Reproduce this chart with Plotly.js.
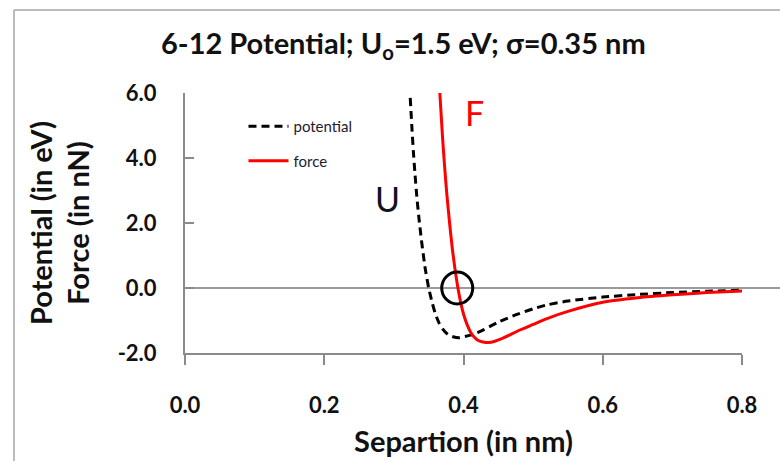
<!DOCTYPE html>
<html>
<head>
<meta charset="utf-8">
<script src="https://cdn.plot.ly/plotly-3.0.1.min.js"></script>
<style>html,body{margin:0;padding:0;background:#fff;}#chart{width:780px;height:461px;}</style>
</head>
<body>
<div id="chart"></div>
<script>
// Separation (nm) and potential (eV)
var sepU = [0.3235, 0.326, 0.328, 0.330, 0.333, 0.336, 0.340, 0.345, 0.350, 0.355, 0.360, 0.365, 0.370, 0.375, 0.380, 0.385, 0.393, 0.400, 0.410, 0.420, 0.430, 0.440, 0.450, 0.460, 0.470, 0.480, 0.500, 0.520, 0.550, 0.600, 0.650, 0.700, 0.750, 0.800];
var potential = [5.85, 4.9, 4.2, 3.6, 2.8, 2.15, 1.4, 0.6, 0.0, -0.45, -0.82, -1.08, -1.26, -1.38, -1.46, -1.50, -1.53, -1.50, -1.45, -1.37, -1.27, -1.16, -1.05, -0.96, -0.87, -0.79, -0.64, -0.52, -0.40, -0.28, -0.20, -0.14, -0.10, -0.07];
// Separation (nm) and force (nN)
var sepF = [0.366, 0.368, 0.370, 0.373, 0.376, 0.380, 0.384, 0.388, 0.392, 0.396, 0.400, 0.405, 0.410, 0.415, 0.420, 0.428, 0.436, 0.445, 0.455, 0.465, 0.480, 0.500, 0.520, 0.550, 0.600, 0.650, 0.700, 0.750, 0.800];
var force = [6.0, 5.3, 4.6, 3.7, 2.9, 2.0, 1.2, 0.55, 0.0, -0.45, -0.80, -1.12, -1.35, -1.50, -1.60, -1.66, -1.68, -1.64, -1.56, -1.46, -1.30, -1.12, -0.94, -0.72, -0.44, -0.30, -0.21, -0.14, -0.09];
var seriesNames = ["potential", "force"];
var xTicks = [0.0, 0.2, 0.4, 0.6, 0.8];
var xTickText = ["0.0", "0.2", "0.4", "0.6", "0.8"];
var yTicks = [-2.0, 0.0, 2.0, 4.0, 6.0];
var yTickText = ["-2.0", "0.0", "2.0", "4.0", "6.0"];

var FONT = "Lato, 'Open Sans', sans-serif";

var traces = [
  {x: sepU, y: potential, name: seriesNames[0], mode: "lines", legendgroup: "a",
   line: {color: "#000000", width: 3, dash: "8px,5px", shape: "spline", smoothing: 0.6}},
  {x: sepF, y: force, name: seriesNames[1], mode: "lines", legendgroup: "b",
   line: {color: "#ff0000", width: 3, shape: "spline", smoothing: 0.6}}
];

var axisGray = "#8a8a8a";
var layout = {
  width: 780, height: 461,
  margin: {l: 185, r: 38, t: 93, b: 108},
  paper_bgcolor: "#ffffff", plot_bgcolor: "#ffffff",
  font: {family: FONT, color: "#111111"},
  title: {
    text: "6-12 Potential; U<sub>o</sub>=1.5 eV; σ=0.35 nm",
    font: {family: FONT, size: 29, weight: "bold", color: "#111111"},
    xref: "paper", x: 0.392, xanchor: "center",
    yref: "container", y: 0.905, yanchor: "middle"
  },
  xaxis: {
    range: [0, 0.8], tickvals: xTicks, ticktext: xTickText,
    showgrid: false, zeroline: false,
    showline: true, linecolor: axisGray, linewidth: 2,
    ticks: "outside", ticklen: 10, tickwidth: 2, tickcolor: axisGray,
    tickfont: {family: FONT, size: 22, weight: "bold", color: "#111111"},
    ticklabelstandoff: 22,
    title: {text: "Separtion (in nm)", font: {family: FONT, size: 29, weight: "bold", color: "#111111"}, standoff: 14}
  },
  yaxis: {
    range: [-2, 6], tickvals: yTicks, ticktext: yTickText,
    showgrid: false, zeroline: false,
    showline: true, linecolor: axisGray, linewidth: 2,
    ticks: "inside", ticklen: 9, tickwidth: 2, tickcolor: axisGray,
    tickfont: {family: FONT, size: 22, weight: "bold", color: "#111111"},
    ticklabelstandoff: 22,
    title: {text: "Potential (in eV)<br>Force (in nN)", font: {family: FONT, size: 29, weight: "bold", color: "#111111"}, standoff: 19}
  },
  showlegend: true,
  legend: {
    x: 0.105, y: 0.935, xanchor: "left", yanchor: "top",
    bgcolor: "rgba(0,0,0,0)", borderwidth: 0,
    font: {family: FONT, size: 15, color: "#1c1c30"},
    traceorder: "grouped", tracegroupgap: 12, itemwidth: 40
  },
  shapes: [
    // zero line
    {type: "line", xref: "paper", yref: "y", x0: 0, x1: 1.07, y0: 0, y1: 0,
     line: {color: "#9a9a9a", width: 2}, layer: "below"},
    // circle at equilibrium
    {type: "circle", xref: "x", yref: "y", xsizemode: "pixel", ysizemode: "pixel",
     xanchor: 0.391, yanchor: 0, x0: -15.5, x1: 15.5, y0: -16, y1: 16,
     line: {color: "#000000", width: 3}},
    // outer frame (top and left)
    {type: "line", xref: "paper", yref: "paper", x0: -0.307, x1: 1.07, y0: 1.319, y1: 1.319,
     line: {color: "#a6a6a6", width: 1.5}},
    {type: "line", xref: "paper", yref: "paper", x0: -0.307, x1: -0.307, y0: 1.319, y1: -0.42,
     line: {color: "#a6a6a6", width: 1.5}}
  ],
  annotations: [
    {text: "U", xref: "x", yref: "y", x: 0.2915, y: 2.75, showarrow: false,
     font: {family: FONT, size: 34, color: "#111122"}},
    {text: "F", xref: "x", yref: "y", x: 0.4155, y: 5.4, showarrow: false,
     font: {family: FONT, size: 34, color: "#ff0000"}}
  ]
};

Plotly.newPlot("chart", traces, layout, {displayModeBar: false, staticPlot: true});
</script>
</body>
</html>
